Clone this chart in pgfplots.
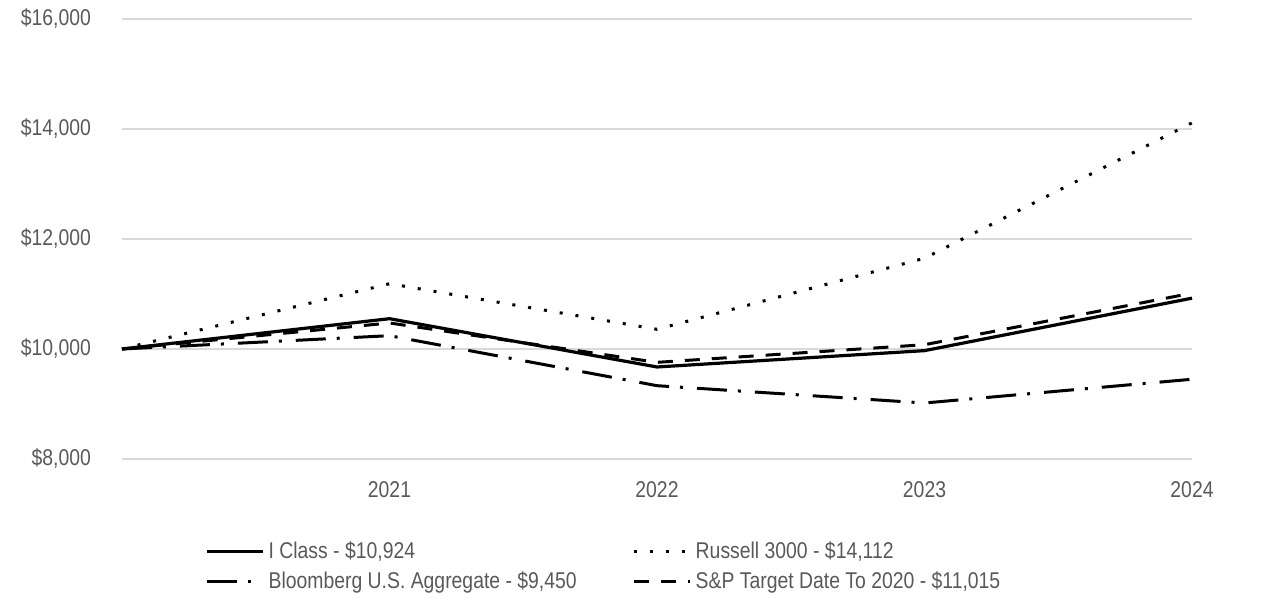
\documentclass[border=0pt]{standalone}
\usepackage{fontspec}
\setmainfont[FakeStretch=0.85]{Liberation Sans}
\usepackage{pgfplots}
\pgfplotsset{compat=1.18}
\definecolor{txt}{HTML}{595959}
\definecolor{grd}{HTML}{D9D9D9}
\newcommand{\chartfont}{\fontsize{11.4}{13.6}\selectfont}
\begin{document}
\begin{tikzpicture}
\begin{axis}[
  scale only axis,
  width=535pt, height=220pt,
  xmin=2020, xmax=2024,
  ymin=8000, ymax=16000,
  xtick={2021,2022,2023,2024},
  ytick={8000,10000,12000,14000,16000},
  scaled y ticks=false,
  axis line style={draw=none},
  tick style={draw=none},
  ymajorgrids,
  grid style={grd, line width=1pt},
  clip=false,
  ticklabel style={font=\chartfont, text=txt},
  /pgf/number format/assume math mode=true,
  xticklabel style={/pgf/number format/1000 sep=, yshift=-8pt},
  yticklabel={\$\pgfmathprintnumber[1000 sep={,}]{\tick}},
  yticklabel style={xshift=-12pt},
  legend columns=2,
  legend cell align=left,
  legend style={
    at={(0.0776,-0.178)}, anchor=north west,
    draw=none, fill=none, inner sep=0pt,
    font=\chartfont, text=txt,
    row sep=1pt,
    /tikz/every even column/.append style={column sep=26pt},
  },
  legend image code/.code={\draw[#1] (0pt,0pt) -- (28pt,0pt);},
]
% I Class
\addplot[black, line width=1.6pt] coordinates {
  (2020,10000) (2021,10551) (2022,9673) (2023,9970) (2024,10924)};
\addlegendentry{I Class - \$10,924}
% Russell 3000
\addplot[black, line width=1.5pt, dash pattern=on 1.5pt off 6.5pt] coordinates {
  (2020,10000) (2021,11187) (2022,10358) (2023,11650) (2024,14112)};
\addlegendentry{Russell 3000 - \$14,112}
% Bloomberg U.S. Aggregate
\addplot[black, line width=1.5pt, dash pattern=on 15pt off 5.5pt on 1.5pt off 7pt] coordinates {
  (2020,10000) (2021,10242) (2022,9333) (2023,9018) (2024,9450)};
\addlegendentry{Bloomberg U.S. Aggregate - \$9,450}
% S&P Target Date To 2020
\addplot[black, line width=1.5pt, dash pattern=on 7.5pt off 6pt] coordinates {
  (2020,10000) (2021,10473) (2022,9757) (2023,10078) (2024,11015)};
\addlegendentry{S\&P Target Date To 2020 - \$11,015}
\end{axis}
\pgfresetboundingbox
\path (-61pt,-77.5pt) rectangle (582pt,229.5pt);
\end{tikzpicture}
\end{document}
